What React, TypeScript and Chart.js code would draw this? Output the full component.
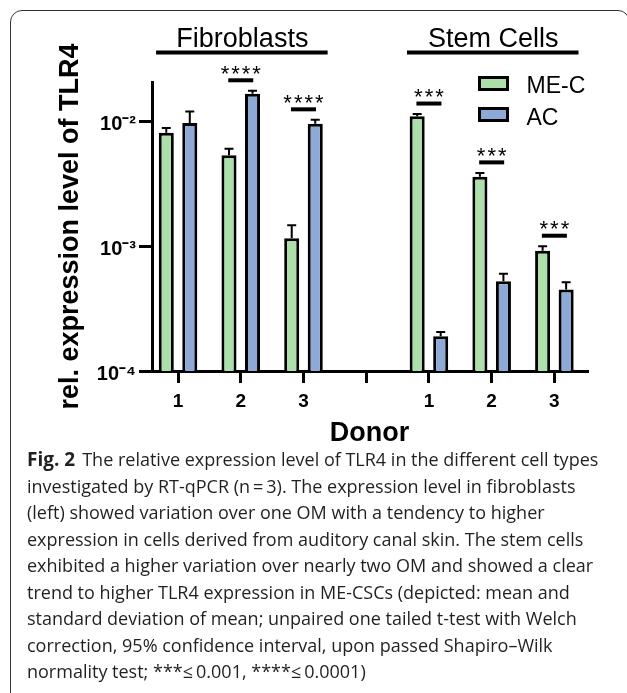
import React, { useEffect, useRef } from "react";
import { Chart, registerables } from "chart.js";

Chart.register(...registerables);

// ---- data ----
const categories = ["1", "2", "3", "", "1", "2", "3"];
const seriesNames = ["ME-C", "AC"];
const meCMeans = [0.0081, 0.00535, 0.00116, null, 0.011, 0.0036, 0.00092];
const meCSD = [0.00076, 0.0007, 0.00031, null, 0.00046, 0.00027, 0.00008];
const acMeans = [0.0097, 0.0167, 0.0096, null, 0.00019, 0.000525, 0.00045];
const acSD = [0.0023, 0.0009, 0.0007, null, 0.000015, 0.000077, 0.000065];
const sigLabels = ["", "****", "****", "", "***", "***", "***"];
const groupLabels = ["Fibroblasts", "Stem Cells"];
const groupStart = [0, 4];
const groupEnd = [2, 6];
const yTickValues = [1e-4, 1e-3, 1e-2];
const yMin = 1e-4;
const yMax = 0.0207;

const captionLines = [
  "The relative expression level of TLR4 in the different cell types",
  "investigated by RT-qPCR (n\u2009=\u20093). The expression level in fibroblasts",
  "(left) showed variation over one OM with a tendency to higher",
  "expression in cells derived from auditory canal skin. The stem cells",
  "exhibited a higher variation over nearly two OM and showed a clear",
  "trend to higher TLR4 expression in ME-CSCs (depicted: mean and",
  "standard deviation of mean; unpaired one tailed t-test with Welch",
  "correction, 95% confidence interval, upon passed Shapiro\u2013Wilk",
  "normality test; ***\u2264\u20090.001, ****\u2264\u20090.0001)",
];

const colors = ["#ADDFAB", "#8CAAD5"];
const FONT = "'Liberation Sans', Arial, Helvetica, sans-serif";

const SUP: Record<string, string> = {
  "-": "\u207B", "0": "\u2070", "1": "\u00B9", "2": "\u00B2", "3": "\u00B3",
  "4": "\u2074", "5": "\u2075", "6": "\u2076", "7": "\u2077", "8": "\u2078", "9": "\u2079",
};
const powLabel = (v: number) => {
  const e = Math.round(Math.log10(v)).toString();
  return "10" + e.split("").map((c) => SUP[c] ?? c).join("");
};

const means = [meCMeans, acMeans];
const sds = [meCSD, acSD];

const annotationPlugin = {
  id: "annotations",
  afterDatasetsDraw(chart: any) {
    const ctx = chart.ctx;
    const ys = chart.scales.y;
    ctx.save();
    ctx.strokeStyle = "#000";
    ctx.lineWidth = 2;
    chart.data.datasets.forEach((ds: any, d: number) => {
      const meta = chart.getDatasetMeta(d);
      meta.data.forEach((el: any, k: number) => {
        const idx = ds.data[k].x;
        const top = ys.getPixelForValue((means[d][idx] as number) + (sds[d][idx] as number));
        ctx.beginPath();
        ctx.moveTo(el.x, el.y);
        ctx.lineTo(el.x, top);
        ctx.moveTo(el.x - 4.5, top);
        ctx.lineTo(el.x + 4.5, top);
        ctx.stroke();
      });
    });
    ctx.restore();
  },
  afterDraw(chart: any) {
    const ctx = chart.ctx;
    const xs = chart.scales.x;
    const ys = chart.scales.y;
    const area = chart.chartArea;
    ctx.save();
    // significance marks
    sigLabels.forEach((lab, i) => {
      if (!lab) return;
      const tops = [0, 1].map((d) =>
        ys.getPixelForValue((means[d][i] as number) + (sds[d][i] as number))
      );
      const lineY = Math.min(...tops) - 10.5;
      const cx = xs.getPixelForValue(i);
      ctx.fillStyle = "#000";
      ctx.fillRect(cx - 12.5, lineY - 2, 25, 4);
      ctx.font = `22px ${FONT}`;
      (ctx as any).letterSpacing = "2px";
      ctx.textAlign = "center";
      ctx.textBaseline = "alphabetic";
      ctx.fillText(lab, cx + 1, lineY + 0.5);
      (ctx as any).letterSpacing = "0px";
    });
    // group headers
    groupLabels.forEach((lab, g) => {
      const x0 = xs.getPixelForValue(groupStart[g] - 0.35);
      const x1 = xs.getPixelForValue(groupEnd[g] + 0.385);
      const y = area.top - 29.5;
      ctx.fillStyle = "#000";
      ctx.fillRect(x0, y - 2, x1 - x0, 4);
      ctx.font = `27px ${FONT}`;
      ctx.textAlign = "center";
      ctx.textBaseline = "alphabetic";
      ctx.fillText(lab, (x0 + x1) / 2 + 0.5, y - 6);
    });
    // legend
    chart.data.datasets.forEach((ds: any, d: number) => {
      const bx = area.right - 107.5;
      const by = area.top - 4.5 + d * 31;
      ctx.fillStyle = ds.backgroundColor;
      ctx.fillRect(bx, by, 28, 12);
      ctx.strokeStyle = "#000";
      ctx.lineWidth = 3;
      ctx.strokeRect(bx, by, 28, 12);
      ctx.fillStyle = "#000";
      ctx.font = `23px ${FONT}`;
      ctx.textAlign = "left";
      ctx.textBaseline = "alphabetic";
      ctx.fillText(ds.label, area.right - 60.5, by + 15 + (d ? 1.3 : 0));
    });
    ctx.restore();
  },
};

function BarChart() {
  const ref = useRef<HTMLCanvasElement>(null);
  useEffect(() => {
    if (!ref.current) return;
    const datasets = [0, 1].map((d) => ({
      label: seriesNames[d],
      data: categories
        .map((_, i) => ({ x: i, y: means[d][i] }))
        .filter((p) => p.y !== null),
      backgroundColor: colors[d],
      borderColor: "#000",
      borderWidth: 3,
      categoryPercentage: 0.75,
      barPercentage: 0.64,
    }));
    const chart = new Chart(ref.current, {
      type: "bar",
      data: { datasets } as any,
      plugins: [annotationPlugin],
      options: {
        animation: false,
        responsive: false,
        events: [],
        layout: { padding: { left: 0, right: 40, top: 82, bottom: 0 } },
        plugins: { legend: { display: false }, tooltip: { enabled: false } },
        scales: {
          x: {
            type: "linear",
            offset: false,
            min: -0.415,
            max: 6.52,
            afterBuildTicks: (s: any) => {
              s.ticks = categories.map((_, i) => ({ value: i }));
            },
            afterFit: (s: any) => {
              s.height = 89;
            },
            border: { display: true, color: "#000", width: 3 },
            grid: {
              offset: false,
              drawOnChartArea: false,
              color: "#000",
              lineWidth: 3,
              tickLength: 12,
            },
            ticks: {
              color: "#000",
              autoSkip: false,
              maxRotation: 0,
              padding: 7,
              font: { family: FONT, weight: "bold", size: 19 },
              callback: (v: any) => categories[Math.round(Number(v))] ?? "",
            },
            title: {
              display: true,
              text: "Donor",
              color: "#000",
              font: { family: FONT, weight: "bold", size: 27 },
              padding: { top: 0, bottom: 10 },
            },
          },
          y: {
            type: "logarithmic",
            min: yMin,
            max: yMax,
            afterBuildTicks: (s: any) => {
              s.ticks = yTickValues.map((v) => ({ value: v, major: true }));
            },
            afterFit: (s: any) => {
              s.width = 152;
            },
            border: { display: true, color: "#000", width: 3 },
            grid: { drawOnChartArea: false, color: "#000", lineWidth: 3, tickLength: 13 },
            ticks: {
              color: "#000",
              padding: 3,
              labelOffset: 3,
              font: { family: FONT, weight: "bold", size: 20 },
              callback: (v: any) => powLabel(Number(v)),
            },
            title: {
              display: true,
              text: "rel. expression level of TLR4",
              color: "#000",
              font: { family: FONT, weight: "bold", size: 27 },
              padding: { top: 54, bottom: 0 },
            },
          },
        },
      } as any,
    });
    return () => chart.destroy();
  }, []);
  return (
    <canvas
      ref={ref}
      width={627}
      height={460}
      style={{ position: "absolute", left: 0, top: 0, width: 627, height: 460, display: "block" }}
    />
  );
}

export default function App() {
  return (
    <div
      style={{
        position: "fixed",
        left: 0,
        top: 0,
        width: 627,
        height: 693,
        overflow: "hidden",
        background: "#fff",
      }}
    >
      <div
        style={{
          position: "absolute",
          left: 10,
          top: 10,
          width: 620,
          height: 720,
          border: "1.3px solid #333",
          borderRadius: 12,
          boxSizing: "border-box",
        }}
      />
      <BarChart />
      <div
        style={{
          position: "absolute",
          left: 27,
          top: 446,
          fontFamily: "'Open Sans', 'Noto Sans', sans-serif",
          fontSize: 18,
          lineHeight: "26.5px",
          color: "#231f20",
          whiteSpace: "nowrap",
        }}
      >
        {captionLines.map((line, i) => (
          <div key={i}>
            {i === 0 && <b style={{ fontSize: 19, marginRight: 7 }}>Fig. 2</b>}
            {line}
          </div>
        ))}
      </div>
    </div>
  );
}
